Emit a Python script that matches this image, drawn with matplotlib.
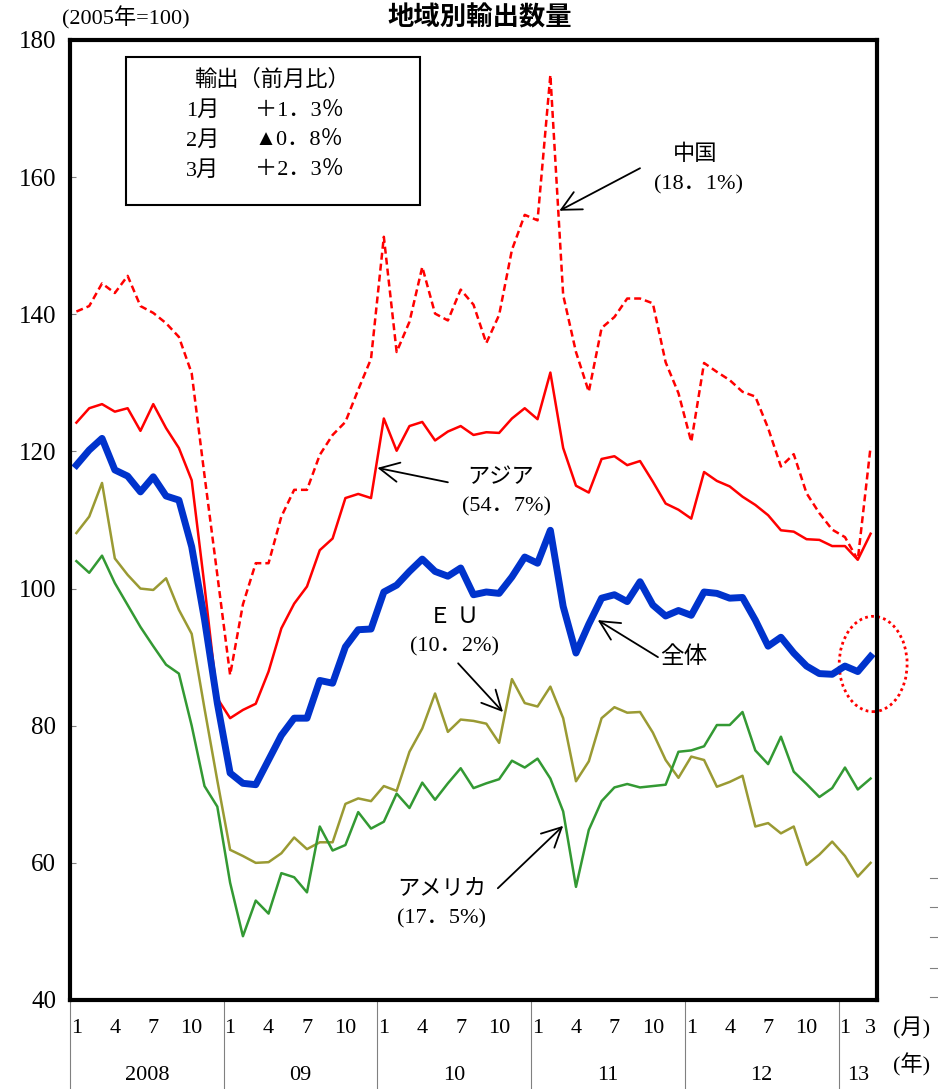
import matplotlib
matplotlib.use("Agg")
import matplotlib.pyplot as plt
from matplotlib.patches import Rectangle, Ellipse
from matplotlib.lines import Line2D
from matplotlib import transforms

plt.rcParams["font.family"] = ["Liberation Serif", "Noto Sans CJK JP"]

# monthly index, Jan 2008 .. Mar 2013 (2005 = 100)
total = [118.0, 120.2, 121.9, 117.3, 116.4, 114.1, 116.3, 113.5, 112.9, 106.1, 95.5, 83.3,
         73.1, 71.6, 71.4, 75.0, 78.6, 81.1, 81.1, 86.6, 86.2, 91.5, 94.0, 94.1,
         99.5, 100.5, 102.5, 104.3, 102.5, 101.8, 103.0, 99.1, 99.5, 99.3, 101.7, 104.6,
         103.7, 108.5, 97.4, 90.6, 94.8, 98.6, 99.1, 98.1, 101.0, 97.6, 96.0, 96.8,
         96.1, 99.5, 99.3, 98.6, 98.7, 95.4, 91.6, 92.9, 90.6, 88.7, 87.6, 87.5,
         88.7, 87.9, 90.1]
china = [140.4, 141.2, 144.5, 143.1, 145.6, 141.2, 140.2, 138.7, 136.7, 131.4, 116.5, 102.0,
         87.4, 97.7, 103.7, 103.7, 110.5, 114.4, 114.4, 119.5, 122.4, 124.3, 129.0, 133.5,
         151.3, 134.5, 138.9, 146.9, 140.1, 139.1, 143.6, 141.4, 135.8, 139.9, 149.4, 154.5,
         153.7, 174.9, 142.8, 134.5, 128.7, 138.0, 139.6, 142.3, 142.3, 141.6, 133.0, 128.5,
         121.4, 132.9, 131.6, 130.4, 128.7, 128.0, 123.4, 117.8, 119.6, 113.9, 111.0, 108.6,
         107.5, 104.2, 120.7]
asia = [124.2, 126.3, 126.9, 125.8, 126.3, 123.0, 126.9, 123.4, 120.5, 115.8, 100.4, 84.0,
        81.1, 82.3, 83.2, 87.9, 94.2, 97.8, 100.3, 105.6, 107.3, 113.2, 113.8, 113.2,
        124.8, 120.1, 123.7, 124.3, 121.6, 122.9, 123.7, 122.4, 122.8, 122.7, 124.8, 126.3,
        124.7, 131.5, 120.5, 115.0, 114.0, 118.9, 119.3, 118.0, 118.6, 115.6, 112.4, 111.5,
        110.2, 117.0, 115.7, 114.9, 113.4, 112.2, 110.7, 108.5, 108.3, 107.2, 107.1, 106.2,
        106.2, 104.2, 108.0]
eu = [108.1, 110.5, 115.4, 104.4, 102.0, 100.0, 99.8, 101.5, 96.9, 93.4, 82.5, 72.0,
      61.9, 61.0, 60.0, 60.1, 61.4, 63.7, 62.0, 63.0, 63.0, 68.6, 69.4, 69.0,
      71.2, 70.5, 76.2, 79.6, 84.7, 79.1, 80.9, 80.7, 80.3, 77.5, 86.8, 83.3,
      82.8, 85.7, 81.1, 71.9, 74.8, 81.1, 82.7, 81.9, 82.0, 79.0, 75.0, 72.4,
      75.5, 75.0, 71.1, 71.8, 72.7, 65.3, 65.8, 64.3, 65.3, 59.7, 61.2, 63.1,
      61.0, 58.0, 60.0]
america = [104.0, 102.3, 104.8, 100.8, 97.6, 94.4, 91.6, 88.9, 87.6, 80.0, 71.2, 68.2,
           57.1, 49.3, 54.5, 52.6, 58.5, 57.9, 55.7, 65.3, 61.8, 62.6, 67.4, 65.0,
           66.0, 70.1, 68.0, 71.7, 69.2, 71.6, 73.8, 70.9, 71.6, 72.2, 74.9, 73.9,
           75.2, 72.3, 67.5, 56.5, 64.8, 69.0, 71.0, 71.5, 71.0, 71.2, 71.4, 76.2,
           76.4, 77.0, 80.1, 80.1, 82.0, 76.4, 74.4, 78.4, 73.3, 71.5, 69.6, 70.9,
           73.9, 70.7, 72.3]

years = ["2008", "09", "10", "11", "12", "13"]
months_per_year = [12, 12, 12, 12, 12, 3]
month_ticks = ["1", "4", "7", "10"]

box_title = "輸出（前月比）"
box_months = ["1月", "2月", "3月"]
box_values = ["＋1．3％", "▲0．8％", "＋2．3％"]

x = list(range(len(total)))

fig = plt.figure(figsize=(9.38, 10.89), dpi=100)
ax = fig.add_axes([70 / 938, 89 / 1089, 807 / 938, 960 / 1089])

ax.plot(x, china, color="#FF0000", lw=1.8, ls=(0, (2.8, 1.6)))
ax.plot(x, asia, color="#FF0000", lw=1.8)
ax.plot(x, eu, color="#9A9A33", lw=1.8)
ax.plot(x, america, color="#339933", lw=1.8)
ax.plot(x, total, color="#0033CC", lw=5.0, solid_joinstyle="round")

ax.set_xlim(-0.5, len(total) - 0.5)
ax.set_ylim(40, 180)
ax.set_yticks(range(40, 181, 20))
ax.tick_params(axis="y", direction="in", length=4, color="#808080",
               labelsize=18, pad=10)
ax.set_xticks([])
for s in ax.spines.values():
    s.set_linewidth(3)
    s.set_color("black")

# month / year labels under the axis
tr = transforms.blended_transform_factory(ax.transData, ax.transAxes)
start = 0
for yr, n in zip(years, months_per_year):
    labels = month_ticks if n == 12 else ["1", "3"]
    pos = [0, 3, 6, 9] if n == 12 else [0, 2]
    for lab, p in zip(labels, pos):
        ax.text(start + p, -0.030, lab, transform=tr, ha="center", va="center",
                fontsize=16)
    ax.text(start + (n - 1) / 2, -0.079, yr, transform=tr, ha="center",
            va="center", fontsize=16)
    ax.plot([start - 0.5, start - 0.5], [0, -0.095], transform=tr,
            color="#808080", lw=0.8, clip_on=False)
    start += n
ax.text(65.2, -0.030, "(月)", transform=tr, ha="center", va="center", fontsize=16)
ax.text(65.2, -0.068, "(年)", transform=tr, ha="center", va="center", fontsize=16)

# legend-like box
ax.add_patch(Rectangle((0.0694, 0.828), 0.3643, 0.1543, transform=ax.transAxes,
                       fill=False, ec="black", lw=1.5))
ax.text(0.250, 0.958, box_title, transform=ax.transAxes, ha="center",
        va="center", fontsize=16)
for i, (m, v) in enumerate(zip(box_months, box_values)):
    yy = 0.926 - i * 0.031
    ax.text(0.1437, yy, m, transform=ax.transAxes, ha="left", va="center", fontsize=16)
    ax.text(0.229, yy, v, transform=ax.transAxes, ha="left", va="center", fontsize=16)

# annotations
arrow = dict(arrowstyle="->,head_length=0.7,head_width=0.35", color="black",
             lw=1.3, mutation_scale=20, shrinkA=0, shrinkB=0)
ax.annotate("", xy=(37.7, 155.1), xytext=(44.0, 161.3), arrowprops=arrow)
ax.text(48.3, 163.3, "中国", ha="center", va="center", fontsize=16)
ax.text(48.6, 158.9, "(18．1%)", ha="center", va="center", fontsize=16)

ax.annotate("", xy=(23.5, 117.6), xytext=(29.0, 115.5), arrowprops=arrow)
ax.text(33.1, 116.1, "アジア", ha="center", va="center", fontsize=16)
ax.text(33.6, 111.9, "(54．7%)", ha="center", va="center", fontsize=16)

ax.annotate("", xy=(33.3, 82.0), xytext=(29.8, 89.1), arrowprops=arrow)
ax.text(29.5, 95.6, "Ｅ Ｕ", ha="center", va="center", fontsize=16)
ax.text(29.5, 91.5, "(10．2%)", ha="center", va="center", fontsize=16)

ax.annotate("", xy=(40.7, 95.4), xytext=(45.4, 90.0), arrowprops=arrow)
ax.text(45.6, 90.0, "全体", ha="left", va="center", fontsize=17)

ax.annotate("", xy=(38.0, 65.4), xytext=(32.9, 56.3), arrowprops=arrow)
ax.text(28.5, 56.0, "アメリカ", ha="center", va="center", fontsize=16)
ax.text(28.5, 51.9, "(17．5%)", ha="center", va="center", fontsize=16)

ax.add_patch(Ellipse((62.2, 89.0), 5.3, 13.9, fill=False, ec="#FF0000",
                     ls=(0, (1, 1.2)), lw=2, clip_on=False))

# titles
fig.text(480 / 938, 1 - 18 / 1089, "地域別輸出数量", ha="center", va="center",
         fontsize=19, fontweight="bold", family="Noto Sans CJK JP")
fig.text(62 / 938, 1 - 18 / 1089, "(2005年=100)", ha="left", va="center",
         fontsize=16)

# stray tick marks at the right edge
for py in [878, 907, 937, 968, 997]:
    fig.add_artist(Line2D([930 / 938, 938 / 938], [1 - py / 1089] * 2,
                          color="#808080", lw=0.8))

fig.savefig("out.png", dpi=100)
